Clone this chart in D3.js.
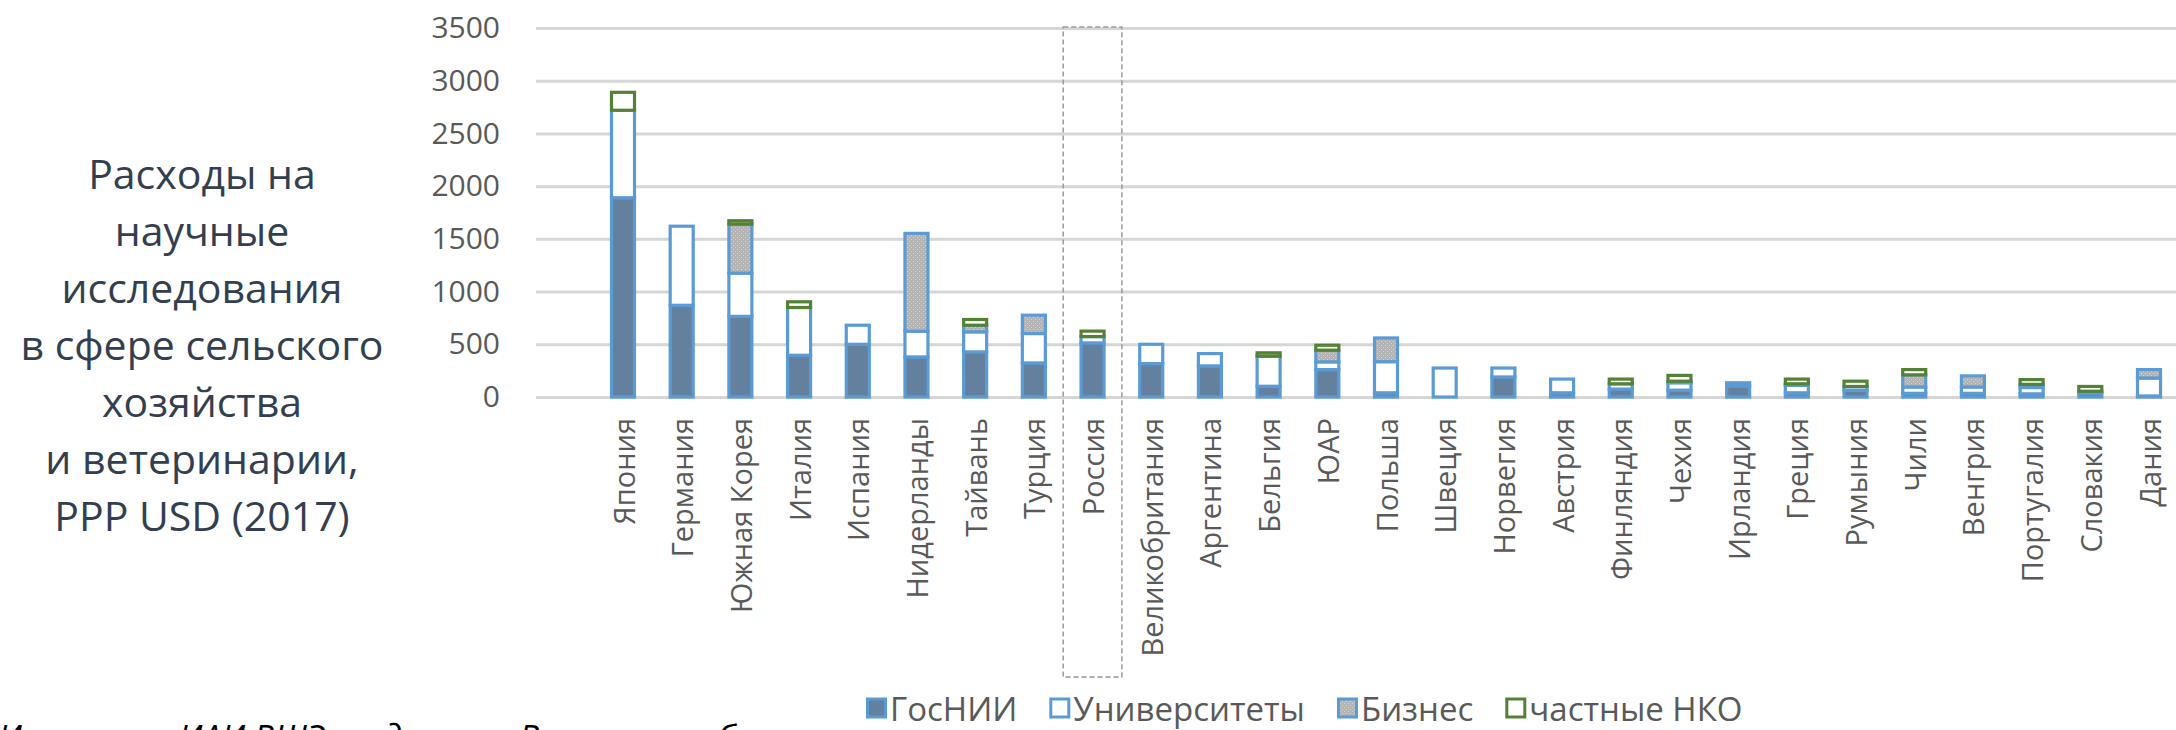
<!DOCTYPE html>
<html>
<head>
<meta charset="utf-8">
<script src="https://cdn.jsdelivr.net/npm/d3@7/dist/d3.min.js"></script>
<style>
  html, body { margin: 0; padding: 0; background: #ffffff; overflow: hidden; }
  svg { display: block; }
  text { font-family: 'Open Sans', 'Noto Sans', sans-serif; }
</style>
</head>
<body>
<svg id="chart" width="2176" height="730"></svg>
<script>
// ---- data ----
const categories = ["Япония","Германия","Южная Корея","Италия","Испания","Нидерланды","Тайвань","Турция","Россия","Великобритания","Аргентина","Бельгия","ЮАР","Польша","Швеция","Норвегия","Австрия","Финляндия","Чехия","Ирландия","Греция","Румыния","Чили","Венгрия","Португалия","Словакия","Дания"];
const gosnii   = [1890, 870, 765, 396, 500, 380, 428, 323, 513, 317, 295, 102, 260,  40,   0, 190,  40,  75,  65, 105,  40,  65,  35,  35,  30,  35,  10];
const univ     = [ 830, 750, 410, 453, 181, 244, 190, 279,  60, 183, 117, 285,  73, 295, 275,  85, 130,  50,  70,  30,  70,  35,  60,  60,  60,  20, 170];
const business = [   0,   0, 465,   0,   0, 928,  63, 174,   0,   0,   0,   0, 111, 225,   0,   0,   0,   0,  15,   0,  15,   0, 115, 105,  30,   0,  80];
const nko      = [ 170,   0,  32,  54,   0,   0,  54,   0,  52,   0,   0,  32,  47,   0,   0,   0,   0,  45,  55,   0,  45,  50,  50,   0,  45,  45,   0];
const seriesNames = ["ГосНИИ", "Университеты", "Бизнес", "частные НКО"];
const yTicks = [0, 500, 1000, 1500, 2000, 2500, 3000, 3500];
const yTitleLines = ["Расходы на", "научные", "исследования", "в сфере сельского", "хозяйства", "и ветеринарии,", "PPP USD (2017)"];
const highlight = "Россия";
const sourceText = "Источник: ИАИ ВШЭ по данным Всемирного банка";

// ---- styles ----
const fills   = ["#63809e", "#ffffff", "url(#dots)", "#ffffff"];
const strokes = ["#5b9bd5", "#5b9bd5", "#5b9bd5", "#548235"];

const svg = d3.select("#chart");
const defs = svg.append("defs");
const pat = defs.append("pattern").attr("id", "dots").attr("patternUnits", "userSpaceOnUse")
  .attr("width", 4).attr("height", 4);
pat.append("rect").attr("width", 4).attr("height", 4).attr("fill", "#b4b4b4");
pat.append("rect").attr("x", 1).attr("y", 1).attr("width", 1).attr("height", 1).attr("fill", "#d6d6d6");
pat.append("rect").attr("x", 3).attr("y", 3).attr("width", 1).attr("height", 1).attr("fill", "#d0d0d0");

const y = d3.scaleLinear().domain([0, 3500]).range([397, 28]);
const x = d3.scalePoint().domain(categories).range([623, 2149]);
const step = x.step();
const barW = 23;
const gridX0 = 536, gridX1 = 2176;

// gridlines + y tick labels
const yAxis = d3.axisLeft(y).tickValues(yTicks).tickSize(-(gridX1 - gridX0)).tickPadding(36).tickFormat(d3.format("d"));
const gAxis = svg.append("g").attr("transform", `translate(${gridX0},0)`).call(yAxis);
gAxis.select(".domain").remove();
gAxis.selectAll(".tick line").attr("stroke", "#d6d6d6").attr("stroke-width", 3);
gAxis.selectAll(".tick text").attr("fill", "#595959").style("font-size", "30px");

// stacked data
const rows = categories.map((c, i) => ({ cat: c, v: [gosnii[i], univ[i], business[i], nko[i]] }));
const stack = d3.stack().keys([0, 1, 2, 3]).value((d, k) => d.v[k]);
const stacked = stack(rows);

stacked.forEach((layer, k) => {
  svg.append("g").selectAll("rect")
    .data(layer.filter(d => d[1] - d[0] > 0))
    .join("rect")
    .attr("x", d => x(d.data.cat) - barW / 2)
    .attr("width", barW)
    .attr("y", d => y(d[1]))
    .attr("height", d => y(d[0]) - y(d[1]))
    .attr("fill", fills[k])
    .attr("stroke", strokes[k])
    .attr("stroke-width", 3.2);
});

// highlight box
svg.append("rect")
  .attr("x", x(highlight) - step / 2)
  .attr("y", y(3500) - 1)
  .attr("width", step)
  .attr("height", 678 - y(3500))
  .attr("fill", "none")
  .attr("stroke", "#9a9a9a")
  .attr("stroke-width", 1.5)
  .attr("stroke-dasharray", "5,3");

// x labels
svg.append("g").selectAll("text")
  .data(categories)
  .join("text")
  .attr("transform", d => `translate(${x(d)},418) rotate(-90)`)
  .attr("text-anchor", "end")
  .attr("dominant-baseline", "central")
  .attr("fill", "#595959")
  .style("font-size", "29px")
  .text(d => d);

// y title
svg.append("g").selectAll("text")
  .data(yTitleLines)
  .join("text")
  .attr("x", 202)
  .attr("y", (d, i) => 173 + i * 57)
  .attr("text-anchor", "middle")
  .attr("dominant-baseline", "central")
  .attr("fill", "#333f50")
  .style("font-size", "41px")
  .text(d => d);

// legend
const legend = svg.append("g");
let lx = 866;
seriesNames.forEach((name, k) => {
  const g = legend.append("g").attr("transform", `translate(${lx},708)`);
  g.append("rect").attr("x", 1.5).attr("y", -9).attr("width", 18).attr("height", 18)
    .attr("fill", fills[k]).attr("stroke", strokes[k]).attr("stroke-width", 3);
  const t = g.append("text").attr("x", 24).attr("y", 0).attr("dominant-baseline", "central")
    .attr("fill", "#595959").style("font-size", "33px").text(name);
  lx += 24 + t.node().getComputedTextLength() + 32;
});

// source note (cut off at the bottom edge, as in the reference)
svg.append("text")
  .attr("x", -2).attr("y", 750)
  .attr("fill", "#000000")
  .style("font-size", "34px")
  .style("font-style", "italic")
  .text(sourceText);
</script>
</body>
</html>
